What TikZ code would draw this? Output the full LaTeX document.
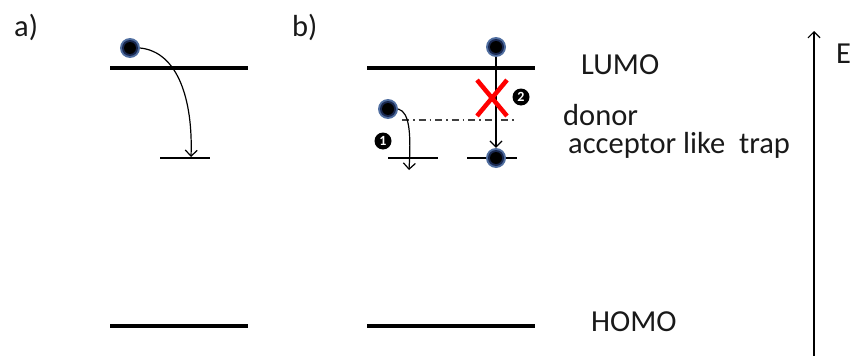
\documentclass[tikz,border=0pt]{standalone}
\usepackage{fontspec}
\setmainfont{Carlito}
\usetikzlibrary{arrows.meta}
\definecolor{txtc}{RGB}{25,25,25}
\definecolor{halo}{RGB}{80,110,160}
\definecolor{halod}{RGB}{25,40,80}
\begin{document}
\begin{tikzpicture}[x=1pt,y=-1pt,
  level/.style={line width=3.5pt},
  traplevel/.style={line width=1.8pt},
  elec/.style={circle,minimum size=20pt,inner sep=0pt,fill=halo,
    path picture={\fill[halod] (path picture bounding box.center) circle (8pt);
                  \fill[black] (path picture bounding box.center) circle (6pt);}},
  arr/.style={line width=1.2pt,-{Straight Barb[length=6pt,width=12pt,line width=1.2pt]}},
  numc/.style={circle,fill=black,text=white,inner sep=0pt,minimum size=17pt,font=\fontsize{14}{14}\selectfont\bfseries},
  lbl/.style={anchor=base west,inner sep=0pt,font=\fontsize{30.5}{34}\selectfont,text=txtc}]
\useasboundingbox (0,0) rectangle (852,356);
% labels a) b)
\node[lbl] (la) at (14,36) {a)};
\node[lbl] (lb) at (292,36) {b)};
% panel a
\draw[level] (110,68) -- (248,68);
\draw[traplevel] (160,158) -- (210,158);
\draw[level] (110,326) -- (248,326);
\node[elec] (ea) at (130,48) {};
\coordinate (ta) at (191,157);
\draw[arr] (ea.east) .. controls (178,52) and (193,100) .. (ta);
% panel b
\draw[level] (367,68) -- (535,68);
\draw[level] (367,326) -- (535,326);
\draw[traplevel] (388,158) -- (438,158);
\draw[traplevel] (467,158) -- (517,158);
\draw[line width=1.3pt,dash pattern=on 7pt off 4pt on 1.5pt off 4pt,black!75] (402,120) -- (517,120);
\node[elec] (eb) at (496,47) {};
\node[elec] (ec) at (496,158) {};
\node[elec] (ed) at (388,109) {};
\draw[arr] (eb.south) -- (ec.north);
\coordinate (tb) at (409,170);
\draw[arr] (ed.east) .. controls (410,112) and (411,135) .. (tb);
\draw[red,line width=4.5pt] (477,80) -- (507,116) (507,80) -- (477,116);
\node[numc] (n1) at (383,141) {1};
\node[numc] (n2) at (521,97) {2};
% level names
\node[lbl] (lumo) at (581,74) {LUMO};
\node[lbl] (donor) at (563,125) {donor};
\node[lbl] (acc) at (568,153) {acceptor like\ \ trap};
\node[lbl] (homo) at (591,331) {HOMO};
% energy axis
\coordinate (ax0) at (814,356);
\coordinate (ax1) at (814,31);
\draw[arr] (ax0) -- (ax1);
\node[lbl] (E) at (836,63) {E};
\end{tikzpicture}
\end{document}
